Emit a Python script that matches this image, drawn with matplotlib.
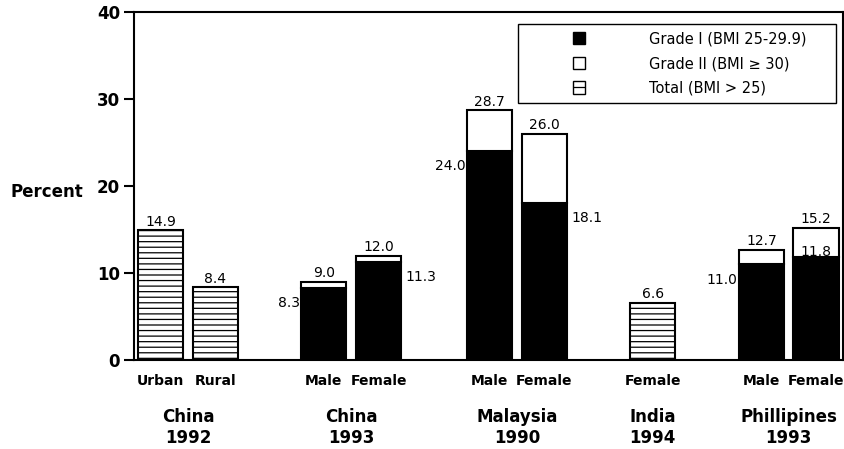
import matplotlib
matplotlib.use('Agg')
import matplotlib.pyplot as plt
from matplotlib.patches import Patch, Rectangle
from matplotlib.legend_handler import HandlerPatch

# Data
categories = ['Urban', 'Rural', 'Male', 'Female', 'Male', 'Female', 'Female', 'Male', 'Female']
groups = ['China\n1992', 'China\n1993', 'Malaysia\n1990', 'India\n1994', 'Phillipines\n1993']
group_index = [0, 0, 1, 1, 2, 2, 3, 4, 4]
total = [14.9, 8.4, 9.0, 12.0, 28.7, 26.0, 6.6, 12.7, 15.2]
grade1 = [None, None, 8.3, 11.3, 24.0, 18.1, None, 11.0, 11.8]

# layout
positions = [0.48, 1.48, 3.45, 4.45, 6.46, 7.46, 9.43, 11.41, 12.40]
grade1_label_side = ['left', 'right', 'left', 'right', 'left', 'inside']
bar_w = 0.82

plt.rcParams['hatch.linewidth'] = 0.9

fig = plt.figure(figsize=(8.44, 4.49), dpi=100)
ax = fig.add_axes([134 / 844, 1 - 360 / 449, 709 / 844, 348 / 449])

side_i = 0
for x, t, g in zip(positions, total, grade1):
    if g is None:
        ax.bar(x, t, width=bar_w, facecolor='white', edgecolor='black',
               hatch='---', linewidth=1.5)
    else:
        ax.bar(x, g, width=bar_w, facecolor='black', edgecolor='black', linewidth=1.5)
        ax.bar(x, t - g, bottom=g, width=bar_w, facecolor='white',
               edgecolor='black', linewidth=1.5)
        side = grade1_label_side[side_i]
        side_i += 1
        if side == 'left':
            ax.annotate(f'{g:.1f}', (x - bar_w / 2, g), xytext=(-1, -11),
                        textcoords='offset points', ha='right', va='center', fontsize=10)
        elif side == 'right':
            ax.annotate(f'{g:.1f}', (x + bar_w / 2, g), xytext=(3, -11),
                        textcoords='offset points', ha='left', va='center', fontsize=10)
        else:
            ax.annotate(f'{g:.1f}', (x, g), xytext=(0, 4),
                        textcoords='offset points', ha='center', va='center', fontsize=10)
    ax.annotate(f'{t:.1f}', (x, t), xytext=(0, 1), textcoords='offset points',
                ha='center', va='bottom', fontsize=10)

ax.set_xlim(0, 12.89)
ax.set_ylim(0, 40)
ax.set_yticks([0, 10, 20, 30, 40])
ax.tick_params(axis='y', length=7, width=1.5, pad=3, labelsize=12)
for lab in ax.get_yticklabels():
    lab.set_fontweight('bold')
ax.set_xticks(positions, categories)
ax.tick_params(axis='x', length=0, pad=10, labelsize=10)
for lab in ax.get_xticklabels():
    lab.set_fontweight('bold')

for sp in ax.spines.values():
    sp.set_linewidth(1.5)

ax.set_ylabel('Percent', rotation=0, ha='right', va='center',
              fontsize=12, fontweight='bold')
ax.yaxis.set_label_coords(-0.072, 0.483)

# group labels under the categories
for gi, name in enumerate(groups):
    xs = [p for p, k in zip(positions, group_index) if k == gi]
    ax.text(sum(xs) / len(xs), -0.193, name, transform=ax.get_xaxis_transform(),
            ha='center', va='center', fontsize=12, fontweight='bold', linespacing=1.2)


def square(legend, orig_handle, xdescent, ydescent, width, height, fontsize):
    s = 9
    return Rectangle((width / 2 - s / 2 - xdescent, height / 2 - s / 2 - ydescent), s, s)


handles = [Patch(facecolor='black', edgecolor='black'),
           Patch(facecolor='white', edgecolor='black'),
           Patch(facecolor='white', edgecolor='black', hatch='--')]
labels = ['Grade I (BMI 25-29.9)', 'Grade II (BMI \u2265 30)', 'Total (BMI > 25)']
leg = ax.legend(handles, labels, loc='upper left',
                bbox_to_anchor=(0.5416, 0.730, 0.4484, 0.2355), mode='expand',
                borderaxespad=0, fontsize=10.5, handlelength=7.4, handletextpad=1.1,
                borderpad=0.5, labelspacing=0.67, fancybox=False, framealpha=1,
                handler_map={Patch: HandlerPatch(patch_func=square)})
leg.get_frame().set_edgecolor('black')
leg.get_frame().set_linewidth(1.0)

fig.savefig('out.png', dpi=100)
